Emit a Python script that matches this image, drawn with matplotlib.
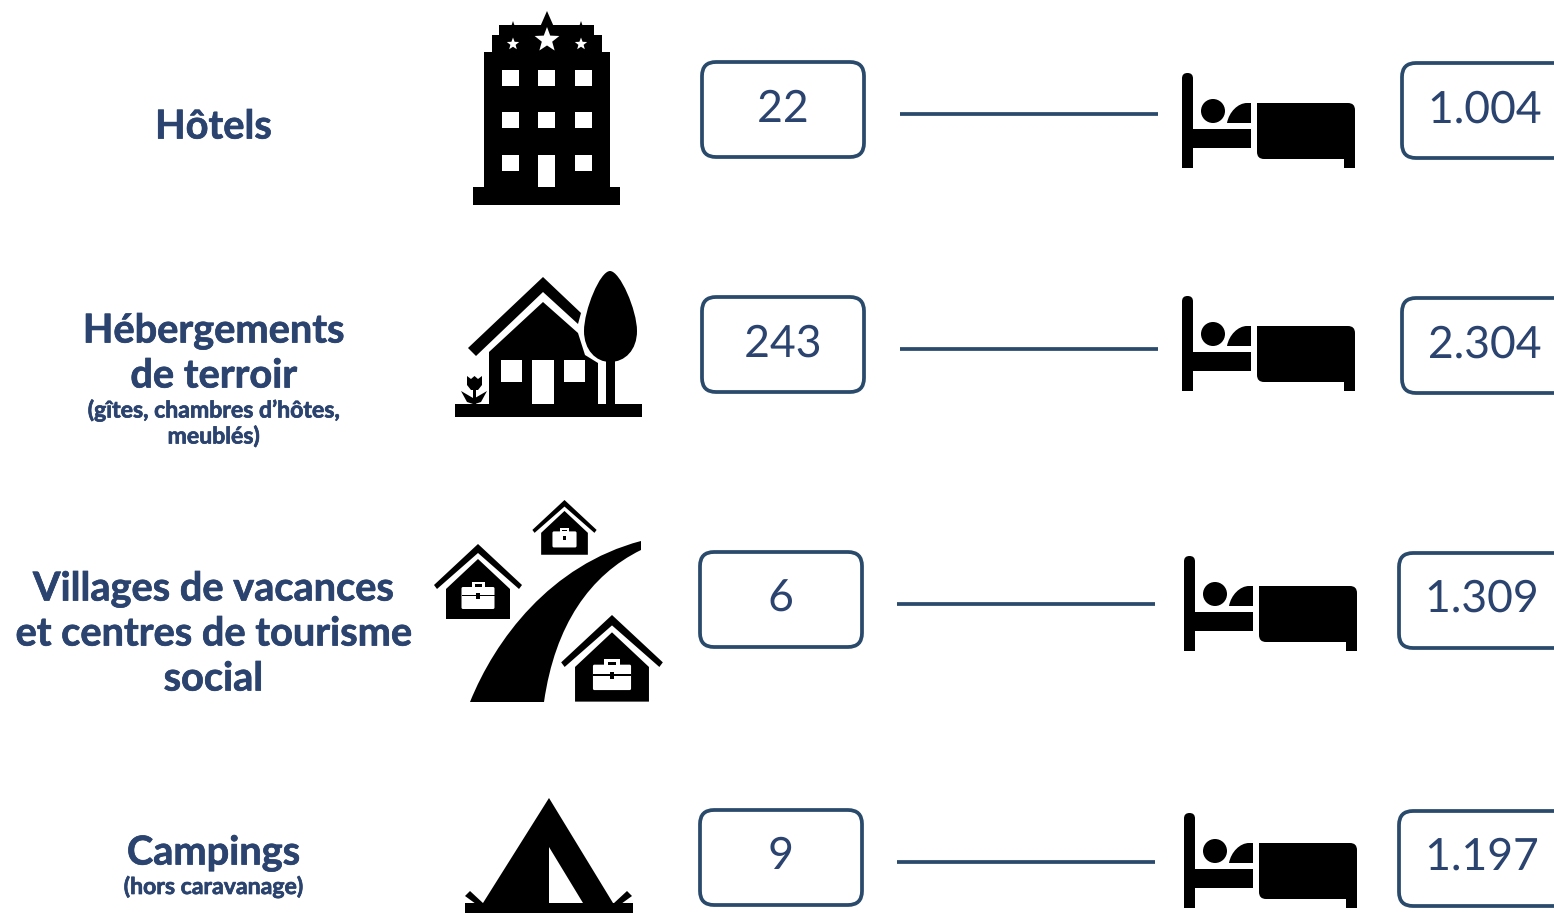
import numpy as np
import matplotlib
matplotlib.use("Agg")
import matplotlib.pyplot as plt
import matplotlib.patheffects as pe
from matplotlib.patches import Polygon, Rectangle, Circle, FancyBboxPatch, PathPatch
from matplotlib.path import Path

# data
categories = ["Hôtels", "Hébergements\nde terroir", "Villages de vacances\net centres de tourisme\nsocial", "Campings"]
subtitles = ["", "(gîtes, chambres d’hôtes,\nmeublés)", "", "(hors caravanage)"]
etablissements = ["22", "243", "6", "9"]
lits = ["1.004", "2.304", "1.309", "1.197"]

BLUE = "#2b436f"
EDGE = "#2a4a6c"

# layout, in pixels of the reference
title_y = [138.5, 342.5, 600.5, 864.5]
sub_y = [0, 417.5, 0, 894]
box1_x = [702, 702, 700, 700]
box1_y = [62, 297, 552, 810]
box2_x = [1402, 1402, 1399, 1399]
box2_y = [63, 298, 553, 811]
line_x = [900, 900, 897, 897]
line_y = [114, 349, 604, 862]
bed_dx = [0, 0, 2, 2]
bed_dy = [0, 223, 483, 740]
num_y = [122, 357, 611, 869]

fig = plt.figure(figsize=(15.54, 9.13), dpi=100)
ax = fig.add_axes([0, 0, 1, 1])
ax.set_xlim(0, 1554)
ax.set_ylim(913, 0)
ax.axis("off")


def poly(pts, color="black", z=3):
    ax.add_patch(Polygon(pts, closed=True, fc=color, ec="none", zorder=z))


def rect(x0, y0, x1, y1, color="black", z=3):
    ax.add_patch(Rectangle((x0, y0), x1 - x0, y1 - y0, fc=color, ec="none", zorder=z))


def star(cx, cy, r, color="white", z=4):
    a = np.arange(10) * np.pi / 5 - np.pi / 2
    rr = np.where(np.arange(10) % 2 == 0, r, r * 0.42)
    poly(np.c_[cx + rr * np.cos(a), cy + rr * np.sin(a)], color, z)


def rounded(x0, y0, x1, y1, r, color="black", z=3):
    ax.add_patch(FancyBboxPatch((x0 + r, y0 + r), x1 - x0 - 2 * r, y1 - y0 - 2 * r,
                                boxstyle="round,pad=%f,rounding_size=%f" % (r, r),
                                fc=color, ec="none", zorder=z))


def curve(verts, codes, color="black", z=3):
    ax.add_patch(PathPatch(Path(verts, codes), fc=color, ec="none", zorder=z))


def hotel():
    rect(473, 187, 620, 205)
    rect(484, 52, 610, 187)
    rect(492, 35, 602, 52)
    rect(499, 25, 594, 35)
    poly([(540, 27), (547, 11), (554, 27)])
    poly([(511, 27), (513, 21), (515, 27)])
    poly([(579, 27), (581, 21), (583, 27)])
    star(547, 40, 13)
    star(513, 44, 6.5)
    star(581, 44, 6.5)
    for wy in [70, 112, 155]:
        for wx in [502, 538, 575]:
            rect(wx, wy, wx + 16.5, wy + 16.5, "white", 4)
    rect(538, 155, 555, 187, "white", 4)


def terroir():
    rect(455, 404, 642, 417)
    poly([(468, 348), (543, 277), (581, 313), (578, 324), (543, 292), (476, 356)])
    poly([(543, 302), (489, 352), (489, 404), (598, 404), (598, 363), (585, 355), (578, 333)])
    for x0, x1, y1 in [(501, 522, 382), (532, 554, 404), (564, 585, 382)]:
        rect(x0, 360, x1, y1, "white", 4)
    M, L, C = Path.MOVETO, Path.LINETO, Path.CURVE4
    curve([(610, 271), (600, 271), (584, 310), (584, 331), (584, 350), (596, 362), (610, 362),
           (625, 362), (637, 350), (637, 331), (637, 310), (620, 271), (610, 271)],
          [M, C, C, C, C, C, C, C, C, C, C, C, C])
    rect(606, 360, 615, 404)
    # tulip
    poly([(467, 376), (471, 379), (474.5, 376), (478, 379), (482, 376), (482, 385), (478, 390), (471, 390), (467, 385)])
    rect(472.5, 388, 475.5, 404)
    poly([(461, 391), (473, 398), (473, 404), (467, 402)])
    poly([(487, 391), (475, 398), (475, 404), (481, 402)])


def petite_maison(cx, top, s):
    poly([(cx - 44 * s, top + 41 * s), (cx, top), (cx + 44 * s, top + 41 * s), (cx + 41 * s, top + 45 * s),
          (cx, top + 9 * s), (cx - 41 * s, top + 45 * s)])
    poly([(cx, top + 15 * s), (cx + 32 * s, top + 45 * s), (cx + 32 * s, top + 75 * s),
          (cx - 32 * s, top + 75 * s), (cx - 32 * s, top + 45 * s)])
    rounded(cx - 16.5 * s, top + 43 * s, cx + 16.5 * s, top + 65 * s, 1.5, "white", 4)
    rect(cx - 6.5 * s, top + 38 * s, cx + 6.5 * s, top + 44 * s, "white", 4)
    rect(cx - 3.5 * s, top + 40.5 * s, cx + 3.5 * s, top + 43 * s, "black", 5)
    rect(cx - 16.5 * s, top + 51.5 * s, cx + 16.5 * s, top + 52.5 * s, "black", 5)
    rect(cx - 2 * s, top + 49.5 * s, cx + 2 * s, top + 55 * s, "black", 5)


def village():
    petite_maison(478, 544, 1.0)
    petite_maison(564.5, 500, 0.73)
    petite_maison(612, 615, 1.155)
    M, L, C = Path.MOVETO, Path.LINETO, Path.CURVE4
    curve([(470, 702), (495, 640), (550, 565), (641, 541), (641, 550),
           (590, 575), (555, 625), (544, 702), (470, 702)],
          [M, C, C, C, L, C, C, C, L])


def tente():
    poly([(549, 798), (613, 903), (483, 903)])
    poly([(549, 847), (583, 903), (549, 903)], "white", 4)
    rect(465, 903, 633, 913)
    poly([(465, 896), (470, 891), (484, 904), (476, 904)])
    poly([(632, 896), (627, 891), (613, 904), (621, 904)])


def bed(dx, dy):
    rounded(1182 + dx, 73 + dy, 1193 + dx, 100 + dy, 5.4)
    rect(1182 + dx, 85 + dy, 1193 + dx, 168 + dy)
    rect(1193 + dx, 129 + dy, 1251 + dx, 148 + dy)
    ax.add_patch(Circle((1213 + dx, 111 + dy), 12, fc="black", ec="none", zorder=3))
    M, L, C = Path.MOVETO, Path.LINETO, Path.CURVE4
    curve([(1227 + dx, 123 + dy), (1229 + dx, 112 + dy), (1238 + dx, 103 + dy), (1247 + dx, 103 + dy),
           (1251 + dx, 103 + dy), (1251 + dx, 123 + dy), (1227 + dx, 123 + dy)],
          [M, C, C, C, L, L, L])
    rounded(1257 + dx, 103 + dy, 1355 + dx, 159 + dy, 7)
    rect(1257 + dx, 103 + dy, 1270 + dx, 112 + dy)
    rect(1344 + dx, 140 + dy, 1355 + dx, 168 + dy)


def box(x0, y0, w, h):
    ax.add_patch(FancyBboxPatch((x0 + 14, y0 + 14), w - 28, h - 28,
                                boxstyle="round,pad=14,rounding_size=14",
                                fc="white", ec=EDGE, lw=2.7, zorder=2))


def nombre(x, y, s):
    t = ax.text(x, y, s, color=BLUE, family="Lato", weight="regular", fontsize=32,
                ha="center", va="baseline", zorder=5)
    t.set_path_effects([pe.withStroke(linewidth=0.9, foreground="white")])


def gras(x, y, s, size):
    t = ax.text(x, y, s, color=BLUE, family="Lato", weight="bold", fontsize=size,
                ha="center", va="baseline")
    t.set_path_effects([pe.withStroke(linewidth=0.5, foreground=BLUE)])


hotel()
terroir()
village()
tente()

for i in range(len(categories)):
    for k, ligne in enumerate(categories[i].split("\n")):
        gras(213.5, title_y[i] + k * 45, ligne, 28.6)
    if subtitles[i]:
        for k, ligne in enumerate(subtitles[i].split("\n")):
            gras(213.5, sub_y[i] + k * 26, ligne, 16.6)
    box(box1_x[i], box1_y[i], 162, 95)
    box(box2_x[i], box2_y[i], 260, 95)
    ax.plot([line_x[i], line_x[i] + 258], [line_y[i], line_y[i]], color=EDGE, lw=2.7, solid_capstyle="butt", zorder=2)
    bed(bed_dx[i], bed_dy[i])
    nombre(box1_x[i] + 81, num_y[i], etablissements[i])
    nombre(box2_x[i] + 83, num_y[i] + 1, lits[i])

fig.savefig("out.png", dpi=100)
